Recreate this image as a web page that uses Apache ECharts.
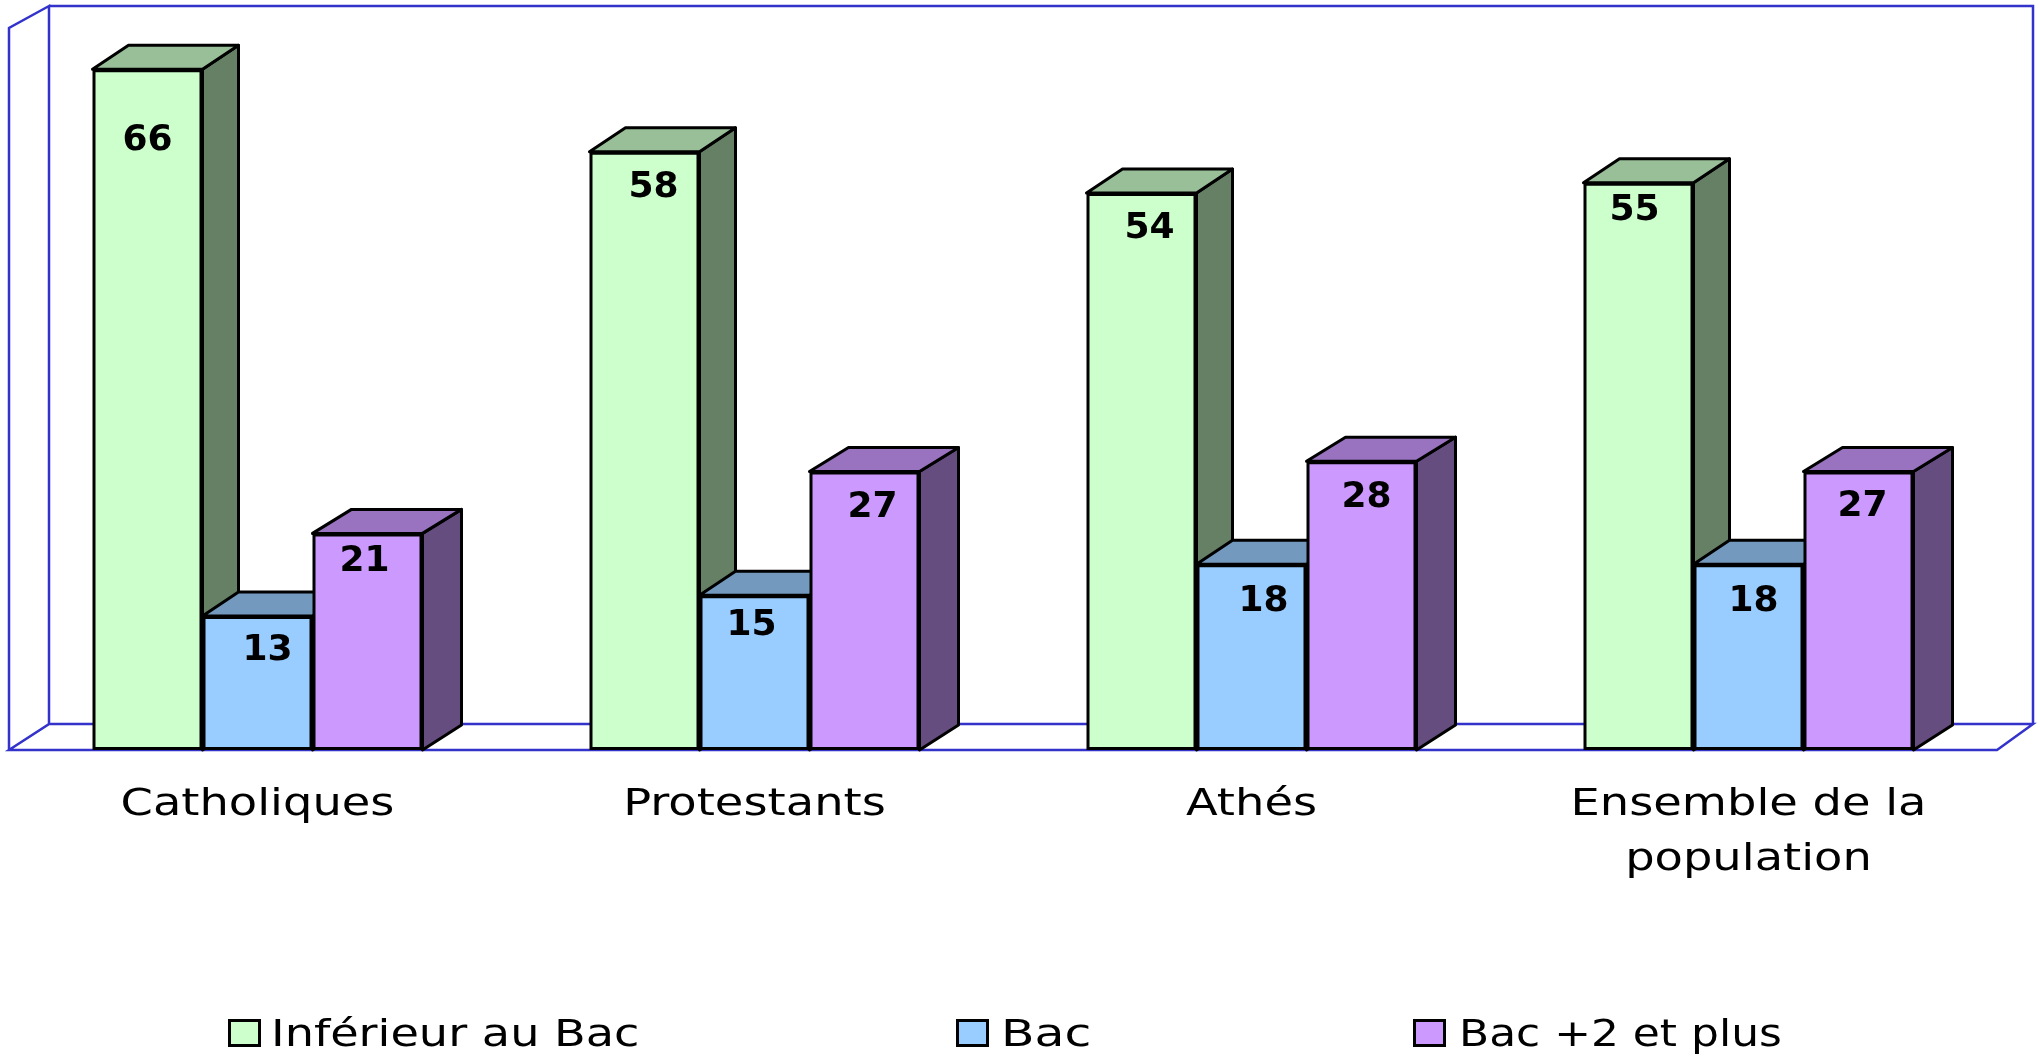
<!DOCTYPE html>
<html><head><meta charset="utf-8">
<style>html,body{margin:0;padding:0;background:#fff}#c{width:2040px;height:1058px}</style>
<script src="https://cdn.jsdelivr.net/npm/echarts@6/dist/echarts.min.js"></script>
</head><body><div id="c"></div>
<script>
const categories = ['Catholiques','Protestants','Athés','Ensemble de la\npopulation'];
const seriesNames = ['Inférieur au Bac','Bac','Bac +2 et plus'];
const inferieur = [66,58,54,55];
const bac = [13,15,18,18];
const bacPlus2 = [21,27,28,27];
const values = [inferieur,bac,bacPlus2];

const frontColors = ['#CCFFCC','#99CCFF','#CC99FF'];
const topColors = ['#99BF99','#7399BF','#9973BF'];
const sideColors = ['#668066','#4D6680','#664D80'];
const depthX = [36,36,39], depthY = 24;
const barW = 110;
// label nudges (dx,dy) from the top centre of each bar, per series then category
const labelNudges = [
  [[0,50],[9,15],[8,15],[-4,7]],
  [[10,14],[-3,9],[12,16],[5,16]],
  [[-3,7],[8,15],[5,15],[4,14]]
];
// the reference's text is stretched horizontally
const categoryStretch = 1.22;
const legendTextWidths = [363,89,318];
const FONT = '"DejaVu Sans"';

const chart = echarts.init(document.getElementById('c'));

function depthSeries(si){
  return {
    type:'custom', z:1, silent:true,
    data: values[si].map((v,i)=>[i,v]),
    renderItem(params,api){
      const p = api.coord([api.value(0),api.value(1)]);
      const b = api.coord([api.value(0),0]);
      const xL = p[0]+(si-1.5)*barW, xR = xL+barW, t=p[1], bt=b[1];
      const dx=depthX[si], dy=depthY;
      const st = {stroke:'#000',lineWidth:3,lineJoin:'round'};
      return {type:'group',children:[
        {type:'polygon',shape:{points:[[xR,t],[xR+dx,t-dy],[xR+dx,bt-dy-1],[xR,bt]]},style:{...st,fill:sideColors[si]}},
        {type:'polygon',shape:{points:[[xL,t],[xL+dx,t-dy],[xR+dx,t-dy],[xR,t]]},style:{...st,fill:topColors[si]}}
      ]};
    }
  };
}
function frame(){
  return {
    type:'custom', z:0, silent:true, data:[[0,0]],
    renderItem(params,api){
      const r=params.coordSys, L=r.x, R=r.x+r.width, T=r.y, B=r.y+r.height;
      const bl=L+40, br=R+36, bt=T-22, bb=B-26;
      const st={stroke:'#3333CC',lineWidth:2.5,fill:null};
      const line=pts=>({type:'polyline',shape:{points:pts},style:st});
      return {type:'group',children:[
        line([[L,B],[L,T],[bl,bt],[bl,bb],[L,B],[R,B],[br,bb],[bl,bb]]),
        line([[bl,bt],[br,bt],[br,bb]])
      ]};
    }
  };
}
function barSeries(si){
  return {
    type:'bar', name:seriesNames[si], z:2, barWidth:barW, barGap:'0%', silent:true,
    itemStyle:{color:frontColors[si],borderColor:'#000',borderWidth:3},
    data: values[si].map((v,i)=>({value:v,label:{offset:labelNudges[si][i]}})),
    label:{show:true,position:'insideTop',distance:0,color:'#000',fontFamily:FONT,fontWeight:'bold',fontSize:36,lineHeight:42}
  };
}
function legendAt(left,si,pad){
  return {left,top:1014,padding:0,itemWidth:30,itemHeight:25,icon:'rect',selectedMode:false,
    itemStyle:{borderWidth:3,borderColor:'#000'},
    data:[seriesNames[si]],
    textStyle:{fontFamily:FONT,fontSize:38,color:'#000',padding:[0,0,0,pad]}};
}
chart.setOption({
  animation:false,
  backgroundColor:'#fff',
  grid:{left:9,right:43,top:28,bottom:308},
  xAxis:{type:'category',data:categories,
    axisLine:{show:false},axisTick:{show:false},
    axisLabel:{fontFamily:FONT,fontSize:38,color:'#000',lineHeight:55,margin:28,interval:0}},
  yAxis:{type:'value',min:0,max:70,show:false,splitLine:{show:false}},
  legend:[legendAt(228,0,6.5),legendAt(956,1,8.5),legendAt(1413,2,9.5)],
  series:[frame(),depthSeries(0),depthSeries(1),depthSeries(2),barSeries(0),barSeries(1),barSeries(2)]
});

// stretch the axis and legend texts horizontally, as in the reference
const zr = chart.getZr();
const seen = new Set();
zr.storage.getDisplayList(true).forEach(el=>{
  const t = el.parent;
  if(!t || !t.style || typeof t.style.text!=='string' || seen.has(t)) return;
  seen.add(t);
  const txt = t.style.text, r = t.getBoundingRect();
  const li = seriesNames.indexOf(txt);
  if(categories.includes(txt)){
    t.scaleX = categoryStretch;
    t.originX = r.x+r.width/2;
    t.markRedraw();
  } else if(li>=0){
    t.scaleX = legendTextWidths[li]/(r.width*0.985);
    t.originX = r.x;
    t.y = (t.y||0)+3;
    t.markRedraw();
  }
});
</script></body></html>
